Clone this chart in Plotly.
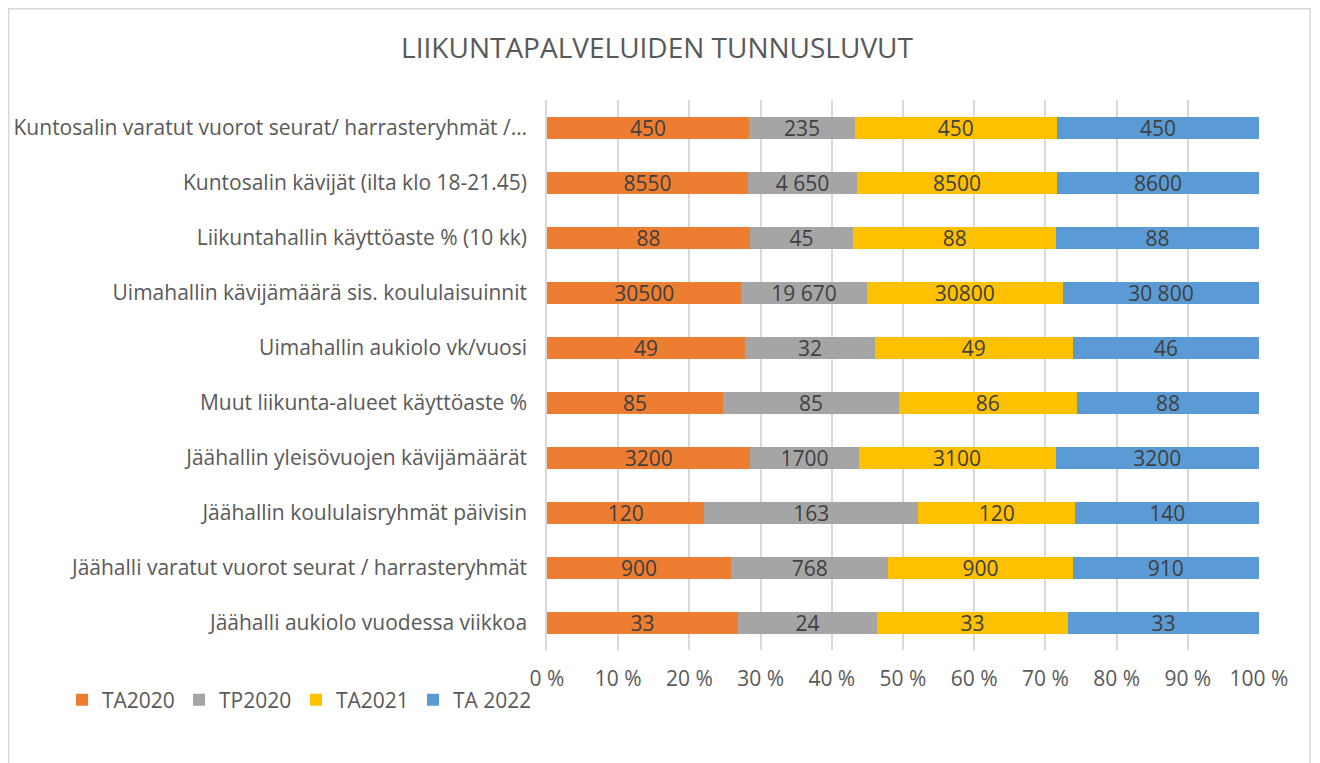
import plotly.graph_objects as go

categories = [
    "Kuntosalin varatut vuorot seurat/ harrasteryhmät /…",
    "Kuntosalin kävijät (ilta klo 18-21.45)",
    "Liikuntahallin käyttöaste % (10 kk)",
    "Uimahallin kävijämäärä sis. koululaisuinnit",
    "Uimahallin aukiolo vk/vuosi",
    "Muut liikunta-alueet käyttöaste %",
    "Jäähallin yleisövuojen kävijämäärät",
    "Jäähallin koululaisryhmät päivisin",
    "Jäähalli varatut vuorot seurat / harrasteryhmät",
    "Jäähalli aukiolo vuodessa viikkoa",
]
ta2020 = [450, 8550, 88, 30500, 49, 85, 3200, 120, 900, 33]
tp2020 = [235, 4650, 45, 19670, 32, 85, 1700, 163, 768, 24]
ta2021 = [450, 8500, 88, 30800, 49, 86, 3100, 120, 900, 33]
ta2022 = [450, 8600, 88, 30800, 46, 88, 3200, 140, 910, 33]
ta2020_lbl = ["450", "8550", "88", "30500", "49", "85", "3200", "120", "900", "33"]
tp2020_lbl = ["235", "4 650", "45", "19 670", "32", "85", "1700", "163", "768", "24"]
ta2021_lbl = ["450", "8500", "88", "30800", "49", "86", "3100", "120", "900", "33"]
ta2022_lbl = ["450", "8600", "88", "30 800", "46", "88", "3200", "140", "910", "33"]
series_names = ["TA2020", "TP2020", "TA2021", "TA 2022"]
colors = ["#ED7D31", "#A5A5A5", "#FFC000", "#5B9BD5"]

FONT = "Open Sans"
FS = 21
fig = go.Figure()
for name, vals, lbls, col in zip(series_names, [ta2020, tp2020, ta2021, ta2022],
                                 [ta2020_lbl, tp2020_lbl, ta2021_lbl, ta2022_lbl], colors):
    fig.add_trace(go.Bar(
        y=categories, x=vals, name=name, orientation="h",
        marker=dict(color=col, line=dict(width=0)),
        text=lbls, textposition="inside", insidetextanchor="middle",
        constraintext="none", textangle=0,
        textfont=dict(size=FS, color="#404040", family=FONT),
        width=0.4, hoverinfo="skip",
    ))

OFF = 8  # page body margin
W, H = 1320, 763
L, R, T, B = 547 - OFF, 1259 - OFF, 100 - OFF, 650 - OFF

def px_x(p):
    return (p - L) / (R - L)

def px_y(p):
    return (B - p) / (B - T)

fig.update_layout(
    width=W, height=H,
    barmode="stack", barnorm="percent",
    margin=dict(l=L, r=W - R, t=T, b=H - B, autoexpand=False),
    paper_bgcolor="white", plot_bgcolor="white",
    font=dict(family=FONT, color="#595959", size=FS),
    title=dict(text="LIIKUNTAPALVELUIDEN TUNNUSLUVUT", x=(657 - OFF) / W, xref="container",
               xanchor="center", y=1 - (48 - OFF) / H, yref="container", yanchor="middle",
               font=dict(size=28, color="#595959", family=FONT)),
    xaxis=dict(range=[0, 100], dtick=10, ticksuffix=" %", showgrid=True,
               gridcolor="#D9D9D9", gridwidth=1.5, zeroline=False,
               showline=False, tickfont=dict(size=FS, color="#595959"),
               ticklabelstandoff=14, automargin=False, fixedrange=True),
    yaxis=dict(autorange="reversed", showgrid=False, showline=True,
               linecolor="#D9D9D9", linewidth=1.5, ticks="",
               ticklabelstandoff=14, automargin=False,
               tickfont=dict(size=FS, color="#595959")),
    legend=dict(orientation="h", x=px_x(62 - OFF), xanchor="left",
                y=px_y(700 - OFF), yanchor="middle", traceorder="normal",
                font=dict(size=FS, color="#595959"), itemwidth=30,
                entrywidth=72, entrywidthmode="pixels"),
    showlegend=True,
)
fig.add_shape(type="rect", xref="paper", yref="paper",
              x0=px_x(0.75), x1=px_x(1310 - OFF), y0=px_y(800), y1=px_y(0.75),
              line=dict(color="#D9D9D9", width=1.5), fillcolor="rgba(0,0,0,0)",
              layer="below")

fig.write_html("out.html")
